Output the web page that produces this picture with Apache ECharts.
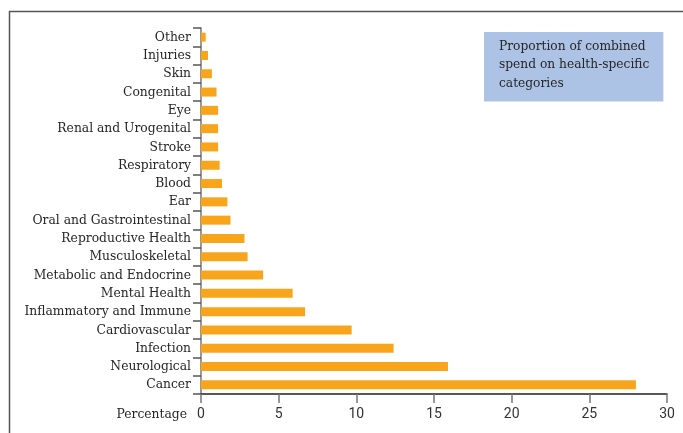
<!DOCTYPE html>
<html>
<head>
<meta charset="utf-8">
<script src="https://cdn.jsdelivr.net/npm/echarts@6/dist/echarts.min.js"></script>
<style>
html,body{margin:0;padding:0;background:#fff;}
#c{width:683px;height:433px;}
</style>
</head>
<body>
<div id="c"></div>
<script>
const cats = ["Cancer","Neurological","Infection","Cardiovascular","Inflammatory and Immune","Mental Health","Metabolic and Endocrine","Musculoskeletal","Reproductive Health","Oral and Gastrointestinal","Ear","Blood","Respiratory","Stroke","Renal and Urogenital","Eye","Congenital","Skin","Injuries","Other"];
const values = [28.0,15.9,12.4,9.7,6.7,5.9,4.0,3.0,2.8,1.9,1.7,1.35,1.2,1.1,1.1,1.1,1.0,0.7,0.45,0.3];
const xTicks = [0,5,10,15,20,25,30];
const boxText = "Proportion of combined\nspend on health-specific\ncategories";
const serif = "DejaVu Serif Condensed";
const chart = echarts.init(document.getElementById('c'));
chart.setOption({
  animation:false,
  graphic:[{type:'rect',shape:{x:9.5,y:11.5,width:900,height:900},style:{fill:'none',stroke:'#555',lineWidth:1.5},silent:true}],
  title:{text:boxText,left:484,top:32,backgroundColor:'#adc3e5',padding:[5,14,9,15],
    textStyle:{fontFamily:serif,fontSize:13.6,fontWeight:'normal',color:'#262626',lineHeight:18.5}},
  grid:{left:201,right:16,top:28,bottom:39,containLabel:false},
  xAxis:{type:'value',min:0,max:30,interval:5,
    name:'Percentage',nameLocation:'start',nameGap:14,
    nameTextStyle:{fontFamily:serif,fontSize:13.7,color:'#262626',verticalAlign:'top',padding:[13,0,0,0]},
    axisLine:{show:true,lineStyle:{color:'#222',width:1.5}},
    axisTick:{show:true,length:9,lineStyle:{color:'#777',width:1.5}},
    axisLabel:{fontFamily:'Roboto',fontSize:14,color:'#333',margin:13,
      formatter:v=>xTicks.includes(v)?String(v):''},
    splitLine:{show:false}},
  yAxis:{type:'category',data:cats,
    axisLine:{show:true,lineStyle:{color:'#777',width:1.5}},
    axisTick:{show:true,length:8,lineStyle:{color:'#555',width:1.5}},
    axisLabel:{fontFamily:serif,fontSize:13.7,color:'#262626',margin:10,interval:0}},
  series:[{type:'bar',data:values,barWidth:9,itemStyle:{color:'#f9a51b'}}]
});
</script>
</body>
</html>
